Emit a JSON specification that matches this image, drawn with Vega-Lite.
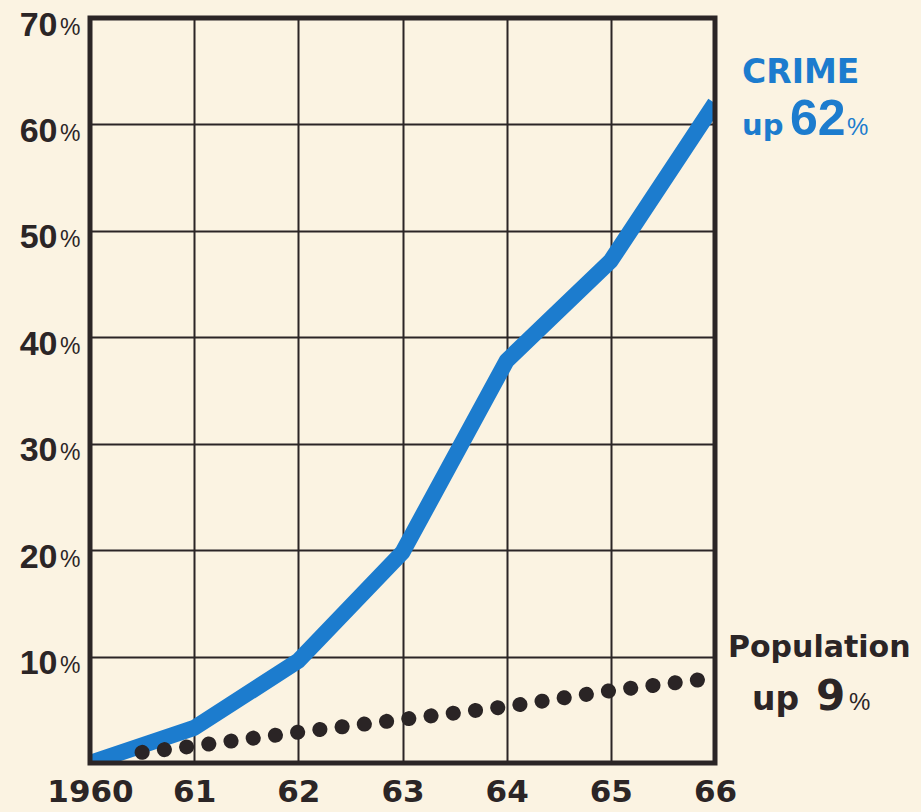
{
  "$schema": "https://vega.github.io/schema/vega-lite/v6.json",
  "width": 625,
  "height": 745,
  "autosize": {"type": "none"},
  "padding": {"left": 90, "top": 18, "right": 206, "bottom": 49},
  "background": "#fbf3e2",
  "config": {"view": {"stroke": null}, "font": "Liberation Sans"},
  "datasets": {
    "crime": [
      {"year": 1960, "pct": 0},
      {"year": 1961, "pct": 3.3},
      {"year": 1962, "pct": 9.6},
      {"year": 1963, "pct": 19.8},
      {"year": 1964, "pct": 37.8},
      {"year": 1965, "pct": 47.2},
      {"year": 1966, "pct": 62}
    ],
    "population": [
      {"year": 1960.5, "pct": 1.0},
      {"year": 1961, "pct": 1.6},
      {"year": 1962, "pct": 2.9},
      {"year": 1963, "pct": 4.1},
      {"year": 1964, "pct": 5.3},
      {"year": 1965, "pct": 6.8},
      {"year": 1966, "pct": 8.0}
    ],
    "one": [{}]
  },
  "layer": [
    {
      "data": {"name": "crime"},
      "mark": {"type": "line", "color": "#1c7cce", "strokeWidth": 16, "clip": true, "strokeCap": "butt", "strokeJoin": "round"},
      "encoding": {
        "x": {
          "field": "year", "type": "quantitative",
          "scale": {"domain": [1960, 1966], "nice": false, "zero": false},
          "axis": {
            "orient": "bottom",
            "values": [1960, 1961, 1962, 1963, 1964, 1965, 1966],
            "labelExpr": "datum.value == 1960 ? '1960' : substring(toString(datum.value), 2)",
            "title": null, "domain": false, "ticks": false, "tickSize": 0,
            "grid": true, "gridColor": "#2b2526", "gridWidth": 2, "gridOpacity": 1,
            "labelFont": "DejaVu Sans", "labelFontWeight": "bold", "labelFontSize": 31,
            "labelColor": "#2b2526", "labelPadding": 14, "labelFlush": false, "labelOverlap": false
          }
        },
        "y": {
          "field": "pct", "type": "quantitative",
          "scale": {"domain": [0, 70], "nice": false, "zero": true},
          "axis": {
            "orient": "left",
            "values": [0, 10, 20, 30, 40, 50, 60, 70],
            "labelExpr": "datum.value == 0 ? '' : toString(datum.value)",
            "title": null, "domain": false, "ticks": false, "tickSize": 0,
            "grid": true, "gridColor": "#2b2526", "gridWidth": 2, "gridOpacity": 1,
            "labelFont": "Liberation Sans", "labelFontWeight": "bold", "labelFontSize": 34,
            "labelColor": "#2b2526", "labelPadding": 33, "labelOffset": 7, "labelBaseline": "middle",
            "labelFlush": false, "labelOverlap": false
          }
        }
      }
    },
    {
      "data": {"name": "population"},
      "mark": {"type": "line", "color": "#2a2425", "strokeWidth": 15, "strokeCap": "round", "strokeDash": [0.1, 22.3], "clip": false},
      "encoding": {
        "x": {"field": "year", "type": "quantitative", "axis": null},
        "y": {
          "field": "pct", "type": "quantitative",
          "axis": {
            "orient": "left",
            "values": [10, 20, 30, 40, 50, 60, 70],
            "labelExpr": "'%'",
            "title": null, "domain": false, "ticks": false, "tickSize": 0, "grid": false,
            "labelFont": "Liberation Sans", "labelFontWeight": "normal", "labelFontSize": 23,
            "labelColor": "#2b2526", "labelPadding": 10, "labelOffset": 9, "labelBaseline": "middle",
            "labelFlush": false, "labelOverlap": false
          }
        }
      }
    },
    {
      "data": {"name": "one"},
      "mark": {"type": "text", "align": "left", "baseline": "alphabetic", "dx": 27, "font": "DejaVu Sans", "fontWeight": "bold", "fontSize": 33, "color": "#1c7cce"},
      "encoding": {
        "x": {"datum": 1966, "type": "quantitative", "axis": null},
        "y": {"datum": 63.9, "type": "quantitative", "axis": null},
        "text": {"value": "CRIME"}
      }
    },
    {
      "data": {"name": "one"},
      "mark": {"type": "text", "align": "left", "baseline": "alphabetic", "dx": 27, "font": "DejaVu Sans", "fontWeight": "bold", "fontSize": 29, "color": "#1c7cce"},
      "encoding": {
        "x": {"datum": 1966, "type": "quantitative", "axis": null},
        "y": {"datum": 59.0, "type": "quantitative", "axis": null},
        "text": {"value": "up"}
      }
    },
    {
      "data": {"name": "one"},
      "mark": {"type": "text", "align": "left", "baseline": "alphabetic", "dx": 75, "font": "Liberation Sans", "fontWeight": "bold", "fontSize": 50, "color": "#1c7cce"},
      "encoding": {
        "x": {"datum": 1966, "type": "quantitative", "axis": null},
        "y": {"datum": 59.0, "type": "quantitative", "axis": null},
        "text": {"value": "62"}
      }
    },
    {
      "data": {"name": "one"},
      "mark": {"type": "text", "align": "left", "baseline": "alphabetic", "dx": 132, "font": "Liberation Sans", "fontWeight": "normal", "fontSize": 24, "color": "#1c7cce"},
      "encoding": {
        "x": {"datum": 1966, "type": "quantitative", "axis": null},
        "y": {"datum": 59.0, "type": "quantitative", "axis": null},
        "text": {"value": "%"}
      }
    },
    {
      "data": {"name": "one"},
      "mark": {"type": "text", "align": "left", "baseline": "alphabetic", "dx": 13, "font": "DejaVu Sans", "fontWeight": "bold", "fontSize": 30, "color": "#2b2526"},
      "encoding": {
        "x": {"datum": 1966, "type": "quantitative", "axis": null},
        "y": {"datum": 10.0, "type": "quantitative", "axis": null},
        "text": {"value": "Population"}
      }
    },
    {
      "data": {"name": "one"},
      "mark": {"type": "text", "align": "left", "baseline": "alphabetic", "dx": 37, "font": "DejaVu Sans", "fontWeight": "bold", "fontSize": 33, "color": "#2b2526"},
      "encoding": {
        "x": {"datum": 1966, "type": "quantitative", "axis": null},
        "y": {"datum": 5.0, "type": "quantitative", "axis": null},
        "text": {"value": "up"}
      }
    },
    {
      "data": {"name": "one"},
      "mark": {"type": "text", "align": "left", "baseline": "alphabetic", "dx": 101, "font": "DejaVu Sans", "fontWeight": "bold", "fontSize": 42, "color": "#2b2526"},
      "encoding": {
        "x": {"datum": 1966, "type": "quantitative", "axis": null},
        "y": {"datum": 5.0, "type": "quantitative", "axis": null},
        "text": {"value": "9"}
      }
    },
    {
      "data": {"name": "one"},
      "mark": {"type": "text", "align": "left", "baseline": "alphabetic", "dx": 134, "font": "Liberation Sans", "fontWeight": "normal", "fontSize": 24, "color": "#2b2526"},
      "encoding": {
        "x": {"datum": 1966, "type": "quantitative", "axis": null},
        "y": {"datum": 5.0, "type": "quantitative", "axis": null},
        "text": {"value": "%"}
      }
    },
    {
      "data": {"name": "one"},
      "mark": {"type": "rect", "filled": false, "stroke": "#2b2526", "strokeWidth": 5},
      "encoding": {
        "x": {"datum": 1960, "type": "quantitative", "axis": null},
        "x2": {"datum": 1966},
        "y": {"datum": 0, "type": "quantitative", "axis": null},
        "y2": {"datum": 70}
      }
    }
  ],
  "resolve": {"axis": {"y": "independent", "x": "independent"}}
}
